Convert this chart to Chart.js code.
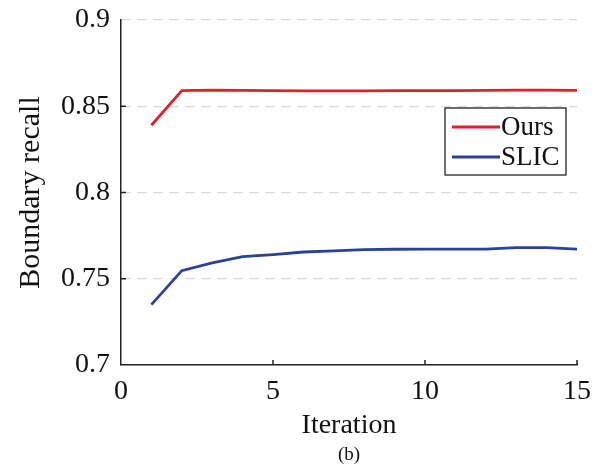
<!DOCTYPE html>
<html>
<head>
<meta charset="utf-8">
<script src="https://cdn.jsdelivr.net/npm/chart.js@4"></script>
<style>
  html, body { margin: 0; padding: 0; background: #fff; }
  #wrap { width: 603px; height: 469px; }
</style>
</head>
<body>
<div id="wrap"><canvas id="recallChart" width="603" height="469"></canvas></div>
<script>
// Data
const iterations = [1, 2, 3, 4, 5, 6, 7, 8, 9, 10, 11, 12, 13, 14, 15];
const oursRecall = [0.839, 0.8591, 0.8594, 0.8592, 0.8590, 0.8589, 0.8589, 0.8589, 0.8590, 0.8591, 0.8591, 0.8592, 0.8594, 0.8593, 0.8592];
const slicRecall = [0.735, 0.7547, 0.7592, 0.7628, 0.7640, 0.7655, 0.7662, 0.7669, 0.7671, 0.7672, 0.7672, 0.7672, 0.7680, 0.7680, 0.7672];
const seriesNames = ['Ours', 'SLIC'];
const seriesColors = ['#e21f2b', '#2a419f'];
const xTicks = [0, 5, 10, 15];
const yTicks = [0.7, 0.75, 0.8, 0.85, 0.9];

const serif = "'Liberation Serif', 'Times New Roman', serif";
const toPoints = vals => vals.map((v, i) => ({ x: iterations[i], y: v }));

// Helper: inward tick marks + boxed legend, drawn like the original figure
const figureExtras = {
  id: 'figureExtras',
  afterDatasetsDraw(chart) {
    const { ctx, chartArea, scales } = chart;
    ctx.save();
    ctx.strokeStyle = '#222';
    ctx.lineWidth = 1.5;
    xTicks.slice(1).forEach(t => {
      const px = scales.x.getPixelForValue(t);
      ctx.beginPath();
      ctx.moveTo(px, chartArea.bottom);
      ctx.lineTo(px, chartArea.bottom - 5);
      ctx.stroke();
    });
    yTicks.slice(1, -1).forEach(t => {
      const py = scales.y.getPixelForValue(t);
      ctx.beginPath();
      ctx.moveTo(chartArea.left, py);
      ctx.lineTo(chartArea.left + 5, py);
      ctx.stroke();
    });

    // legend box
    const bx = 445, by = 108, bw = 121, bh = 67;
    ctx.fillStyle = '#fff';
    ctx.fillRect(bx, by, bw, bh);
    ctx.strokeStyle = '#222';
    ctx.lineWidth = 1.3;
    ctx.strokeRect(bx, by, bw, bh);
    ctx.font = `27px ${serif}`;
    ctx.textBaseline = 'middle';
    ctx.textAlign = 'left';
    chart.data.datasets.forEach((ds, i) => {
      const y = by + 19 + i * 30;
      ctx.strokeStyle = ds.borderColor;
      ctx.lineWidth = 2.8;
      ctx.beginPath();
      ctx.moveTo(bx + 7, y);
      ctx.lineTo(bx + 55, y);
      ctx.stroke();
      ctx.fillStyle = '#111';
      ctx.fillText(ds.label, bx + 56, y + 1);
    });

    // sub-figure caption
    ctx.font = `19px ${serif}`;
    ctx.textAlign = 'center';
    ctx.fillStyle = '#111';
    ctx.fillText('(b)', (chartArea.left + chartArea.right) / 2, 455);
    ctx.restore();
  }
};

const recallChart = new Chart(document.getElementById('recallChart'), {
  type: 'line',
  data: {
    datasets: [
      {
        label: seriesNames[0],
        data: toPoints(oursRecall),
        borderColor: seriesColors[0],
        borderWidth: 2.8,
        pointRadius: 0,
        tension: 0
      },
      {
        label: seriesNames[1],
        data: toPoints(slicRecall),
        borderColor: seriesColors[1],
        borderWidth: 2.8,
        pointRadius: 0,
        tension: 0
      }
    ]
  },
  options: {
    responsive: false,
    animation: false,
    layout: { padding: { top: 20, right: 26, left: 0, bottom: 0 } },
    plugins: {
      legend: { display: false },
      tooltip: { enabled: false }
    },
    scales: {
      x: {
        type: 'linear',
        min: 0,
        max: 15,
        afterBuildTicks: scale => { scale.ticks = xTicks.map(v => ({ value: v })); },
        afterFit: scale => { scale.height = 104; scale.paddingLeft = 0; scale.paddingRight = 0; },
        grid: { display: false, drawTicks: false },
        border: { display: true, color: '#222', width: 1.5 },
        ticks: { color: '#111', padding: 10, maxRotation: 0, font: { family: serif, size: 28 } },
        title: { display: true, text: 'Iteration', color: '#111', padding: { top: 0, bottom: 27 }, font: { family: serif, size: 28 } }
      },
      y: {
        min: 0.7,
        max: 0.9,
        afterBuildTicks: scale => { scale.ticks = yTicks.map(v => ({ value: v })); },
        afterFit: scale => { scale.width = 121; scale.paddingTop = 0; scale.paddingBottom = 0; },
        grid: {
          drawTicks: false,
          color: ctx => (ctx.tick && ctx.tick.value === 0.7) ? 'rgba(0,0,0,0)' : '#dadada',
          lineWidth: 1.2
        },
        border: { display: true, color: '#222', width: 1.5, dash: [9, 7], dashOffset: 0 },
        ticks: {
          color: '#111',
          padding: 11,
          font: { family: serif, size: 28 },
          callback: v => String(+v.toFixed(2))
        },
        title: { display: true, text: 'Boundary recall', color: '#111', padding: { top: 13, bottom: 0 }, font: { family: serif, size: 30 } }
      }
    }
  },
  plugins: [figureExtras]
});
</script>
</body>
</html>
